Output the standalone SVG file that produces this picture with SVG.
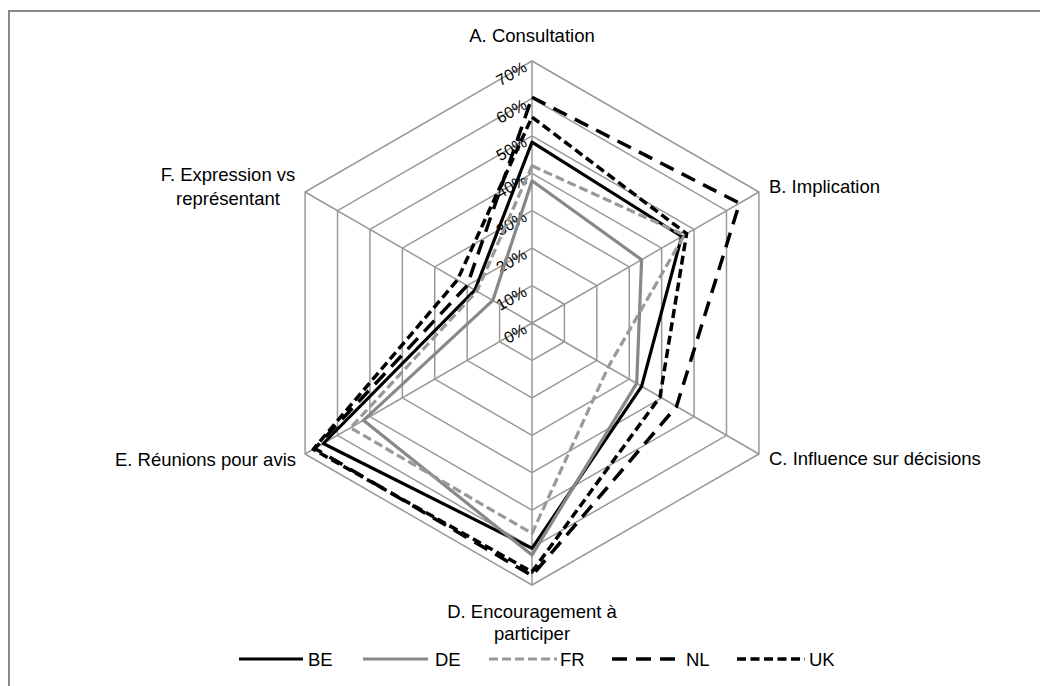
<svg xmlns="http://www.w3.org/2000/svg" width="1040" height="686" viewBox="0 0 1040 686">
<style>
text{font-family:"Liberation Sans",Arial,sans-serif;fill:#000}
.lbl{font-size:18.5px}
.tick{font-size:16px;text-anchor:end}
.grid{fill:none;stroke:#999;stroke-width:1.5}
.s{fill:none;stroke-linejoin:round;stroke-width:3.2}
.be{stroke:#000}
.de{stroke:#888}
.fr{stroke:#999;stroke-dasharray:9 4}
.nl{stroke:#000;stroke-dasharray:15 9;stroke-width:3.5}
.uk{stroke:#000;stroke-dasharray:9 4.5;stroke-width:3.5}
</style>
<rect width="1040" height="686" fill="#fff"/>
<path d="M9 686V11H1040" fill="none" stroke="#888" stroke-width="2"/>
<g id="grid">
<polygon class="grid" points="532,285.57 564.41,304.29 564.41,341.71 532,360.43 499.59,341.71 499.59,304.29"/>
<polygon class="grid" points="532,248.14 596.83,285.57 596.83,360.43 532,397.86 467.17,360.43 467.17,285.57"/>
<polygon class="grid" points="532,210.71 629.25,266.86 629.25,379.14 532,435.29 434.75,379.14 434.75,266.86"/>
<polygon class="grid" points="532,173.28 661.66,248.14 661.66,397.86 532,472.72 402.34,397.86 402.34,248.14"/>
<polygon class="grid" points="532,135.85 694.08,229.42 694.08,416.58 532,510.15 369.92,416.58 369.92,229.42"/>
<polygon class="grid" points="532,98.42 726.49,210.71 726.49,435.29 532,547.58 337.51,435.29 337.51,210.71"/>
<polygon class="grid" points="532,60.99 758.91,192 758.91,454 532,585.01 305.09,454 305.09,192"/>
<path class="grid" d="M532 323V60.99M532 323L758.91 192M532 323L758.91 454M532 323V585.01M532 323L305.09 454M532 323L305.09 192"/>
</g>
<g id="ticks">
<text class="tick" x="528" y="332.5" transform="rotate(-30 528 332.5)">0%</text>
<text class="tick" x="528" y="295.1" transform="rotate(-30 528 295.1)">10%</text>
<text class="tick" x="528" y="257.6" transform="rotate(-30 528 257.6)">20%</text>
<text class="tick" x="528" y="220.2" transform="rotate(-30 528 220.2)">30%</text>
<text class="tick" x="528" y="182.8" transform="rotate(-30 528 182.8)">40%</text>
<text class="tick" x="528" y="145.4" transform="rotate(-30 528 145.4)">50%</text>
<text class="tick" x="528" y="107.9" transform="rotate(-30 528 107.9)">60%</text>
<text class="tick" x="528" y="70.5" transform="rotate(-30 528 70.5)">70%</text>
</g>
<g id="axis-labels">
<text id="label-A" class="lbl" x="532" y="42" text-anchor="middle">A. Consultation</text>
<text id="label-B" class="lbl" x="769" y="193">B. Implication</text>
<text id="label-C" class="lbl" x="769" y="465">C. Influence sur décisions</text>
<text id="label-D" class="lbl" x="532" text-anchor="middle"><tspan x="532" y="618">D. Encouragement à</tspan><tspan x="532" y="640">participer</tspan></text>
<text id="label-E" class="lbl" x="296" y="466" text-anchor="end">E. Réunions pour avis</text>
<text id="label-F" class="lbl" x="228" text-anchor="middle"><tspan x="228" y="181">F. Expression vs</tspan><tspan x="228" y="205">représentant</tspan></text>
</g>
<g id="series">
<polygon id="BE" class="s be" points="532,142.2 681.7,236.5 641.6,386.3 532,548.3 323.3,443.5 474.9,290.1"/>
<polygon id="DE" class="s de" points="532,180.8 641.6,259.7 636.7,383.4 532,555.1 363.4,420.3 492.8,300.4"/>
<polygon id="FR" class="s fr" points="532,165.8 684.3,235 608.2,367 532,533.4 350.5,427.8 476.9,291.2"/>
<polygon id="NL" class="s nl" points="532,97.3 739.5,203.2 676.5,406.5 532,575.7 314.8,448.4 467.1,285.6"/>
<polygon id="UK" class="s uk" points="532,117.1 686.6,233.7 660,396.9 532,571.9 313.2,449.3 457.4,280"/>
</g>
<g id="legend">
<line class="s be" x1="239" y1="659" x2="303" y2="659"/>
<text class="lbl" x="308" y="665.5">BE</text>
<line class="s de" x1="363" y1="659" x2="428" y2="659"/>
<text class="lbl" x="435" y="665.5">DE</text>
<line class="s fr" x1="489" y1="659" x2="557" y2="659"/>
<text class="lbl" x="560" y="665.5">FR</text>
<line class="s nl" x1="612" y1="659" x2="678" y2="659"/>
<text class="lbl" x="686" y="665.5">NL</text>
<line class="s uk" x1="737" y1="659" x2="805" y2="659"/>
<text class="lbl" x="809" y="665.5">UK</text>
</g>
</svg>
